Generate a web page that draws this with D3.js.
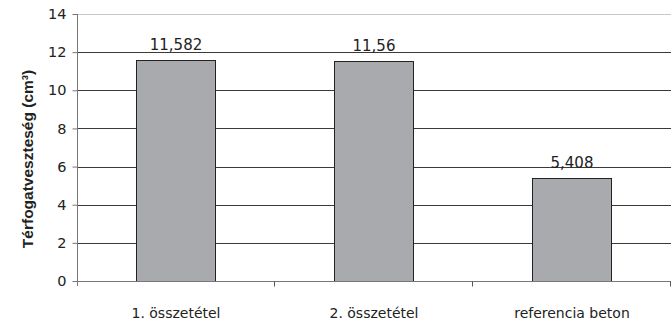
<!DOCTYPE html>
<html><head><meta charset="utf-8">
<script src="https://cdn.jsdelivr.net/npm/d3@7"></script>
<style>
html,body{margin:0;padding:0;background:#fff;}
svg{display:block;font-family:"DejaVu Sans",sans-serif;}
</style></head>
<body><svg id="c" width="672" height="324"></svg>
<script>
const categories = ["1. összetétel", "2. összetétel", "referencia beton"];
const values = [11.582, 11.56, 5.408];
const valueLabels = ["11,582", "11,56", "5,408"];
const yTicks = [0, 2, 4, 6, 8, 10, 12, 14];
const yTitle = "Térfogatveszteség (cm³)";

const svg = d3.select("#c");
const L = 77, R = 671, T = 14, B = 281;
const x = d3.scaleBand().domain(categories).range([L, R]).paddingInner(0.6).paddingOuter(0.3);
const y = d3.scaleLinear().domain([0, 14]).range([B, T]);

// gridlines
svg.append("g").selectAll("line").data(yTicks.filter(d => d > 0)).join("line")
  .attr("x1", L).attr("x2", R)
  .attr("y1", d => Math.round(y(d)) + 0.5).attr("y2", d => Math.round(y(d)) + 0.5)
  .attr("stroke", d => d === 14 ? "#c8c8c8" : "#3a3a3a").attr("stroke-width", 1);

// bars
svg.append("g").selectAll("rect").data(values).join("rect")
  .attr("x", (d, i) => Math.round(x(categories[i])) + 0.5)
  .attr("y", d => Math.round(y(d)) + 0.5)
  .attr("width", Math.round(x.bandwidth()))
  .attr("height", d => Math.round(B) - Math.round(y(d)))
  .attr("fill", "#a9aaae").attr("stroke", "#222").attr("stroke-width", 1);

// value labels
svg.append("g").selectAll("text").data(values).join("text")
  .attr("x", (d, i) => x(categories[i]) + x.bandwidth() / 2)
  .attr("y", d => y(d) - 10)
  .attr("text-anchor", "middle").attr("font-size", 15).attr("fill", "#222")
  .text((d, i) => valueLabels[i]);

// y axis
const yAxis = d3.axisLeft(y).tickValues(yTicks).tickSize(5).tickPadding(6).tickFormat(d3.format("d"));
const gy = svg.append("g").attr("transform", `translate(${L + 0.5},0)`).call(yAxis);
gy.select(".domain").attr("stroke", "#777").attr("d", `M0,${T}V${B + 5}`);
gy.selectAll(".tick line").attr("stroke", "#777");
gy.selectAll(".tick text").attr("font-size", 14.5).attr("fill", "#222").attr("font-family", "DejaVu Sans");

// x axis
const gx = svg.append("g").attr("transform", `translate(0,${B + 0.5})`);
gx.append("line").attr("x1", L).attr("x2", R).attr("stroke", "#777");
const bounds = [L, ...categories.map(c => x(c) - x.step() * x.paddingInner() / 2 + x.step())];
gx.selectAll("line.t").data(bounds.slice(1)).join("line").attr("class", "t")
  .attr("x1", d => Math.round(d) - 0.5).attr("x2", d => Math.round(d) - 0.5)
  .attr("y1", 0).attr("y2", 5).attr("stroke", "#555");
gx.selectAll("text").data(categories).join("text")
  .attr("x", c => x(c) + x.bandwidth() / 2)
  .attr("y", 36)
  .attr("text-anchor", "middle").attr("font-size", 14).attr("fill", "#222")
  .text(c => c);

// y title
svg.append("text")
  .attr("transform", "translate(33,159) rotate(-90)")
  .attr("text-anchor", "middle").attr("font-size", 15.5).attr("font-weight", "bold")
  .attr("font-family", "Liberation Sans").attr("fill", "#222")
  .text(yTitle);
</script></body></html>
